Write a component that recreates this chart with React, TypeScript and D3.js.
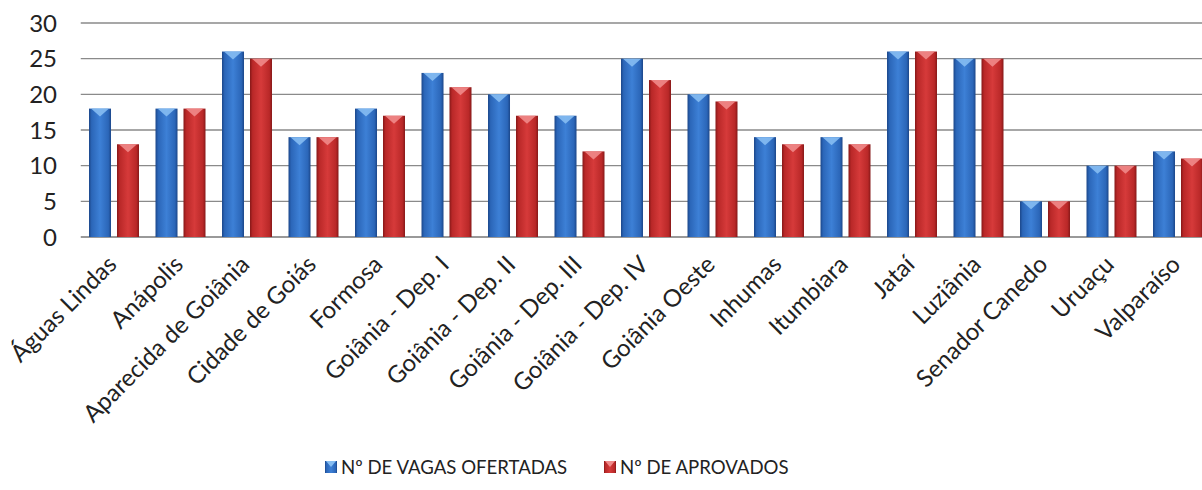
import React from "react";
import * as d3 from "d3";

const categories = [
  "Águas Lindas", "Anápolis", "Aparecida de Goiânia", "Cidade de Goiás", "Formosa",
  "Goiânia - Dep. I", "Goiânia - Dep. II", "Goiânia - Dep. III", "Goiânia - Dep. IV",
  "Goiânia Oeste", "Inhumas", "Itumbiara", "Jataí", "Luziânia", "Senador Canedo",
  "Uruaçu", "Valparaíso",
];
const vagas = [18, 18, 26, 14, 18, 23, 20, 17, 25, 20, 14, 14, 26, 25, 5, 10, 12];
const aprovados = [13, 18, 25, 14, 17, 21, 17, 12, 22, 19, 13, 13, 26, 25, 5, 10, 11];
const seriesNames = ["Nº DE VAGAS OFERTADAS", "Nº DE APROVADOS"];
const yTicks = [0, 5, 10, 15, 20, 25, 30];

const W = 1202, H = 490;
const left = 80.75, right = 1211.25, top = 23, bottom = 237;
const font = "Lato, 'Open Sans', sans-serif";

export default function App() {
  const x = d3.scaleBand<string>().domain(categories).range([left, right]);
  const x1 = d3.scaleBand<string>().domain(["v", "a"]).range([0, x.bandwidth()]).paddingInner(0.214).paddingOuter(0.295);
  const y = d3.scaleLinear().domain([0, 30]).range([bottom, top]);
  const series = [
    { key: "v", values: vagas, grad: "gBlue", tip: "#86bdf2", name: seriesNames[0] },
    { key: "a", values: aprovados, grad: "gRed", tip: "#f08a8a", name: seriesNames[1] },
  ];
  const bw = x1.bandwidth();
  return (
    <svg width={W} height={H} style={{ position: "absolute", left: 0, top: 0, background: "#fff" }}>
      <defs>
        <linearGradient id="gBlue" x1="0" x2="1" y1="0" y2="0">
          <stop offset="0" stopColor="#1b4689" />
          <stop offset="0.12" stopColor="#2b66b8" />
          <stop offset="0.5" stopColor="#3d80d6" />
          <stop offset="0.88" stopColor="#2b66b8" />
          <stop offset="1" stopColor="#1b4689" />
        </linearGradient>
        <linearGradient id="gRed" x1="0" x2="1" y1="0" y2="0">
          <stop offset="0" stopColor="#861818" />
          <stop offset="0.12" stopColor="#b92828" />
          <stop offset="0.5" stopColor="#d63a3a" />
          <stop offset="0.88" stopColor="#b92828" />
          <stop offset="1" stopColor="#861818" />
        </linearGradient>
      </defs>
      {yTicks.map((t) => (
        <g key={t}>
          <line x1={left} x2={W} y1={y(t)} y2={y(t)} stroke={t === 0 ? "#777" : "#8a8a8a"} strokeWidth={1.3} />
          <text x={57} y={y(t)} dy="0.36em" textAnchor="end" fontFamily={font} fontSize={24} fill="#222">{t}</text>
        </g>
      ))}
      {categories.map((c, i) => (
        <g key={c}>
          {series.map((s) => {
            const bx = (x(c) as number) + (x1(s.key) as number);
            const by = y(s.values[i]);
            const h = bottom - by;
            const tri = Math.min(8, h / 2);
            return (
              <g key={s.key}>
                <rect x={bx} y={by} width={bw} height={h} fill={`url(#${s.grad})`} />
                <path d={`M${bx + 2},${by} L${bx + bw - 2},${by} L${bx + bw / 2},${by + tri} Z`} fill={s.tip} opacity={0.9} />
              </g>
            );
          })}
          <text
            transform={`translate(${(x(c) as number) + x.bandwidth() / 2 + 4},${266}) rotate(-45)`}
            textAnchor="end"
            fontFamily={font}
            fontSize={24}
            fill="#222"
          >
            {c}
          </text>
        </g>
      ))}
      {series.map((s, i) => {
        const lx = i === 0 ? 325 : 604;
        return (
          <g key={s.key}>
            <rect x={lx} y={461} width={12} height={12} fill={`url(#${s.grad})`} />
            <path d={`M${lx + 1},${461} L${lx + 11},${461} L${lx + 6},${467} Z`} fill={s.tip} />
            <text x={lx + 16} y={467} dy="0.36em" fontFamily={font} fontSize={18.6} fill="#222">{s.name}</text>
          </g>
        );
      })}
    </svg>
  );
}
